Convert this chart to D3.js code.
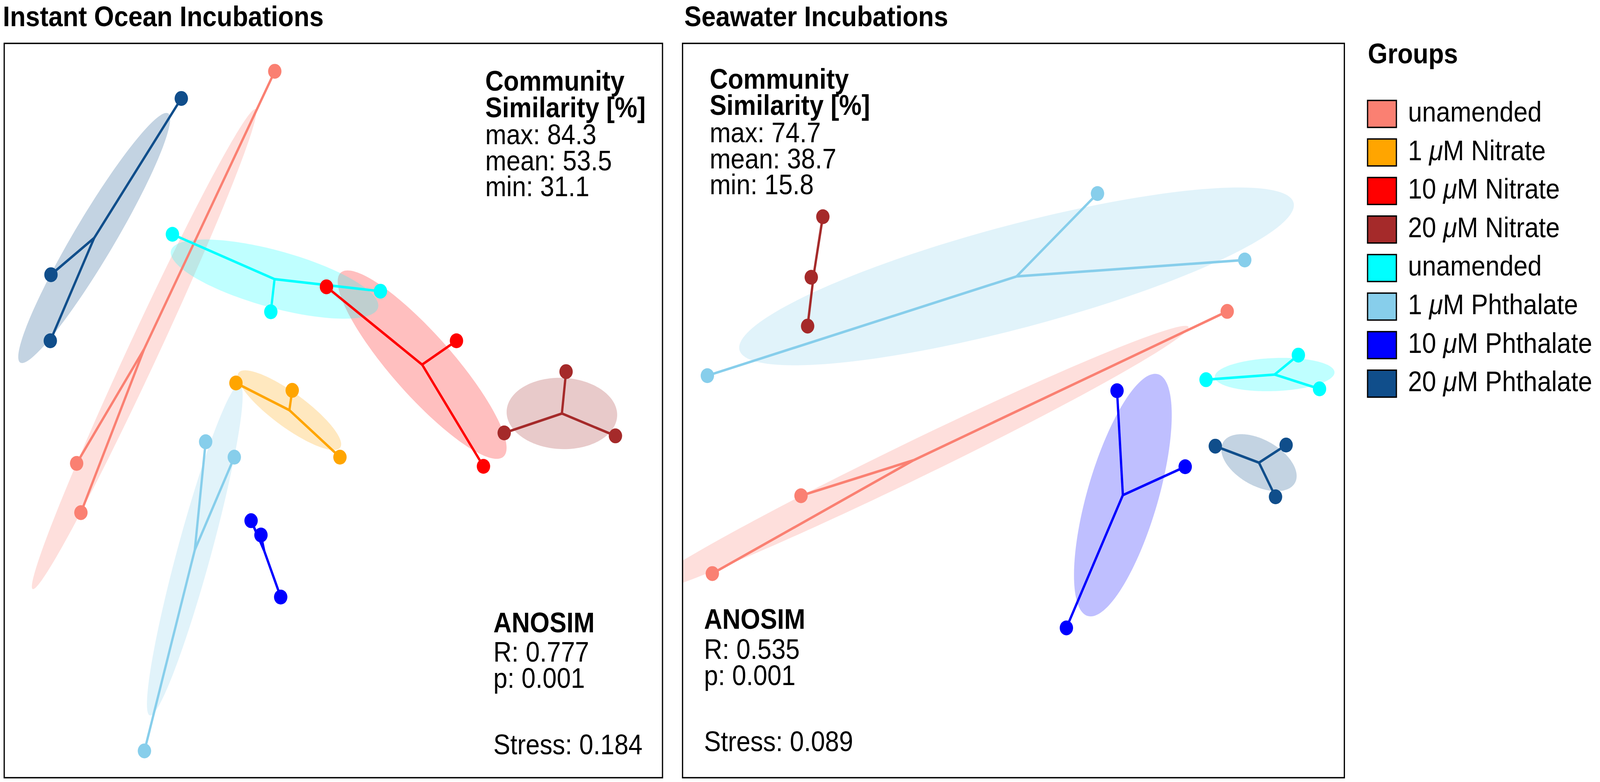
<!DOCTYPE html>
<html><head><meta charset="utf-8">
<script src="https://cdn.jsdelivr.net/npm/d3@7"></script>
<style>html,body{margin:0;padding:0;background:#fff;width:100%;height:100%;overflow:hidden;} svg{display:block;}</style>
</head><body>
<script>
// ---------- data ----------
const groupLabels = ["unamended","1 μM Nitrate","10 μM Nitrate","20 μM Nitrate",
                     "unamended","1 μM Phthalate","10 μM Phthalate","20 μM Phthalate"];
const groupColors = ["#FA8072","#FFA500","#FF0000","#A52A2A","#00FFFF","#87CEEB","#0000FF","#104E8B"];

// Instant Ocean incubations: NMDS scores (group index, NMDS1, NMDS2)
const ioGroup = [0,0,0, 1,1,1, 2,2,2, 3,3,3, 4,4,4, 5,5,5, 6,6,6, 7,7,7];
const ioNMDS1 = [-0.178,-0.780,-0.767, -0.296,-0.125,0.020, -0.021,0.374,0.456, 0.707,0.519,0.857,
                 -0.489,-0.190,0.143, -0.388,-0.301,-0.574, -0.250,-0.220,-0.160, -0.462,-0.858,-0.860];
const ioNMDS2 = [0.924,-0.144,-0.278, 0.075,0.055,-0.127, 0.337,0.190,-0.152, 0.106,-0.061,-0.069,
                 0.480,0.269,0.325, -0.085,-0.127,-0.927, -0.300,-0.339,-0.508, 0.850,0.370,0.190];
// ellipse semi-axes and rotation (degrees) per group
const ioEllA     = [0.736,0.185,0.352,0.168,0.324,0.471,0.118,0.407];
const ioEllB     = [0.045,0.048,0.088,0.097,0.078,0.051,0.002,0.060];
const ioEllAngle = [62.6,-33,-45,-2,-13.7,73.1,113.2,56.4];

// Seawater incubations
const swGroup = [0,0,0, 3,3,3, 4,4,4, 5,5,5, 6,6,6, 7,7,7];
const swNMDS1 = [0.646,-0.642,-0.910, -0.576,-0.611,-0.622, 0.582,0.861,0.925,
                 0.254,0.699,-0.925, 0.313,0.519,0.160, 0.610,0.824,0.792];
const swNMDS2 = [0.270,-0.232,-0.444, 0.528,0.363,0.230, 0.084,0.151,0.059,
                 0.591,0.410,0.095, 0.054,-0.153,-0.592, -0.097,-0.094,-0.235];
const swEllA     = [0.907,null,null,0.165,0.181,0.861,0.346,0.122];
const swEllB     = [0.051,null,null,0.003,0.045,0.141,0.106,0.064];
const swEllAngle = [23.6,null,null,81.3,2,13.4,71.8,-25];

const ioStats  = ["max: 84.3","mean: 53.5","min: 31.1"];
const ioAnosim = ["R: 0.777","p: 0.001"];
const ioStress = "Stress: 0.184";
const swStats  = ["max: 74.7","mean: 38.7","min: 15.8"];
const swAnosim = ["R: 0.535","p: 0.001"];
const swStress = "Stress: 0.089";

// ---------- drawing ----------
const W = 4550, H = 2001;
const FONT = "'Liberation Sans', Arial, Helvetica, sans-serif";
const svg = d3.select("body").append("svg")
  .attr("viewBox", `0 0 ${W} ${H}`)
  .attr("preserveAspectRatio", "none")
  .style("width", "100vw").style("height", "100vh")
  .style("font-family", FONT);

function panel(cfg) {
  const x = d3.scaleLinear().domain([-1, 1]).range([cfg.x0, cfg.x1]);
  const y = d3.scaleLinear().domain([-1, 1]).range([cfg.y1, cfg.y0]);
  const g = svg.append("g");
  g.append("text").attr("x", cfg.titleX).attr("y", 67).attr("font-size", 73)
    .attr("font-weight", "bold").text(cfg.title);

  const clipId = "clip" + cfg.id;
  svg.append("clipPath").attr("id", clipId).append("rect")
    .attr("x", cfg.x0).attr("y", cfg.y0).attr("width", cfg.x1 - cfg.x0).attr("height", cfg.y1 - cfg.y0);
  const plot = g.append("g").attr("clip-path", `url(#${clipId})`);

  const samples = cfg.group.map((gi, i) => ({g: gi, x: cfg.n1[i], y: cfg.n2[i]}));
  const groups = d3.groups(samples, d => d.g).sort((a, b) => a[0] - b[0]);
  const cent = new Map(groups.map(([k, v]) => [k, [d3.mean(v, d => d.x), d3.mean(v, d => d.y)]]));

  // ellipses
  const ellLine = d3.line().x(d => x(d[0])).y(d => y(d[1])).curve(d3.curveLinearClosed);
  groups.forEach(([k]) => {
    const a = cfg.ea[k], b = cfg.eb[k], phi = cfg.eang[k] * Math.PI / 180;
    if (a == null) return;
    const [cx, cy] = cent.get(k);
    const pts = d3.range(0, 360, 2).map(t => {
      const tr = t * Math.PI / 180;
      return [cx + a * Math.cos(tr) * Math.cos(phi) - b * Math.sin(tr) * Math.sin(phi),
              cy + a * Math.cos(tr) * Math.sin(phi) + b * Math.sin(tr) * Math.cos(phi)];
    });
    plot.append("path").attr("d", ellLine(pts)).attr("fill", groupColors[k]).attr("fill-opacity", 0.25);
  });
  // spiders and points
  groups.forEach(([k, v]) => {
    const [cx, cy] = cent.get(k);
    v.forEach(d => {
      plot.append("line").attr("x1", x(cx)).attr("y1", y(cy)).attr("x2", x(d.x)).attr("y2", y(d.y))
        .attr("stroke", groupColors[k]).attr("stroke-width", 6.5);
    });
  });
  groups.forEach(([k, v]) => {
    plot.selectAll(null).data(v).enter().append("circle")
      .attr("cx", d => x(d.x)).attr("cy", d => y(d.y)).attr("r", 19).attr("fill", groupColors[k]);
  });

  g.append("rect").attr("x", cfg.x0).attr("y", cfg.y0).attr("width", cfg.x1 - cfg.x0)
    .attr("height", cfg.y1 - cfg.y0).attr("fill", "none").attr("stroke", "#000").attr("stroke-width", 3.5);

  // annotations
  const t1 = g.append("text").attr("font-size", 72);
  t1.append("tspan").attr("x", cfg.csX).attr("y", cfg.csY[0]).attr("font-weight", "bold").text("Community");
  t1.append("tspan").attr("x", cfg.csX).attr("y", cfg.csY[1]).attr("font-weight", "bold").text("Similarity [%]");
  cfg.stats.forEach((s, i) => t1.append("tspan").attr("x", cfg.csX).attr("y", cfg.csY[2 + i]).text(s));
  const t2 = g.append("text").attr("font-size", 72);
  t2.append("tspan").attr("x", cfg.anX).attr("y", cfg.anY[0]).attr("font-weight", "bold").text("ANOSIM");
  cfg.anosim.forEach((s, i) => t2.append("tspan").attr("x", cfg.anX).attr("y", cfg.anY[1 + i]).text(s));
  g.append("text").attr("font-size", 72).attr("x", cfg.anX).attr("y", cfg.anY[3]).text(cfg.stress);
}

panel({id: 1, title: "Instant Ocean Incubations", titleX: 8,
  x0: 12, x1: 1884, y0: 111, y1: 1990,
  group: ioGroup, n1: ioNMDS1, n2: ioNMDS2, ea: ioEllA, eb: ioEllB, eang: ioEllAngle,
  csX: 1380, csY: [232, 300, 369, 436, 502], stats: ioStats,
  anX: 1403, anY: [1618, 1693, 1760, 1930], anosim: ioAnosim, stress: ioStress});

panel({id: 2, title: "Seawater Incubations", titleX: 1946,
  x0: 1941, x1: 3823, y0: 111, y1: 1990,
  group: swGroup, n1: swNMDS1, n2: swNMDS2, ea: swEllA, eb: swEllB, eang: swEllAngle,
  csX: 2018, csY: [227, 294, 364, 431, 497], stats: swStats,
  anX: 2002, anY: [1609, 1686, 1753, 1922], anosim: swAnosim, stress: swStress});

// legend
const leg = svg.append("g");
leg.append("text").attr("x", 3890).attr("y", 162).attr("font-size", 72).attr("font-weight", "bold").text("Groups");
const step = 98.6;
groupLabels.forEach((lab, i) => {
  leg.append("rect").attr("x", 3889).attr("y", 257 + i * step).attr("width", 82).attr("height", 69)
    .attr("fill", groupColors[i]).attr("stroke", "#000").attr("stroke-width", 3.5);
  const t = leg.append("text").attr("x", 4004).attr("y", 311 + i * step).attr("font-size", 72);
  const parts = lab.split("μ");
  t.append("tspan").text(parts[0]);
  if (parts.length > 1) {
    t.append("tspan").attr("font-style", "italic").text("μ");
    t.append("tspan").text(parts[1]);
  }
});
</script>
</body></html>
